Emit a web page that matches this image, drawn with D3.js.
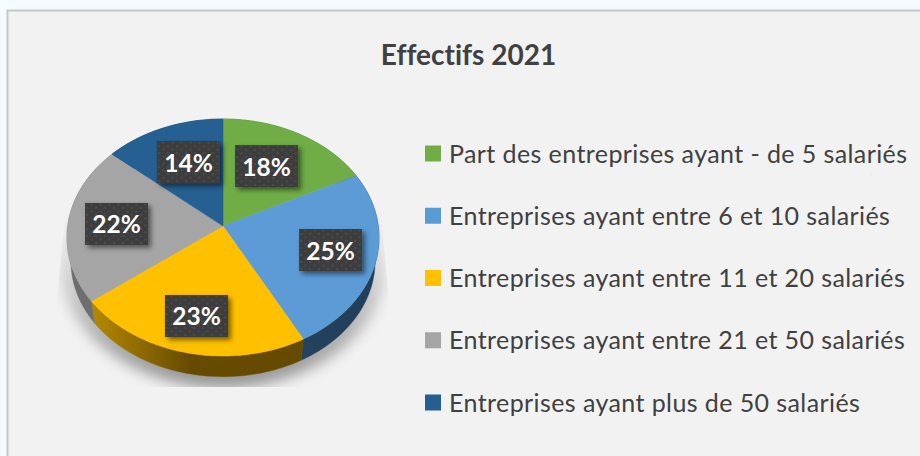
<!DOCTYPE html>
<html>
<head>
<meta charset="utf-8">
<script src="https://cdn.jsdelivr.net/npm/d3@7/dist/d3.min.js"></script>
<style>
html,body{margin:0;padding:0;background:#f5fbff;overflow:hidden}
svg{display:block}
text{font-family:Lato,"Open Sans",sans-serif;font-variant-ligatures:none}
</style>
</head>
<body>
<svg id="chart" width="920" height="456"></svg>
<script>
const chartTitle = "Effectifs 2021";
const categories = [
  "Part des entreprises ayant - de 5 salariés",
  "Entreprises ayant entre 6 et 10 salariés",
  "Entreprises ayant entre 11 et 20 salariés",
  "Entreprises ayant entre 21 et 50 salariés",
  "Entreprises ayant plus de 50 salariés"
];
const values = [18, 25, 23, 22, 14];
const colours = ["#70ad47", "#5b9bd5", "#ffc000", "#a5a5a5", "#255e91"];
const wallStops = [
  ["#43682a", "#43682a"],
  ["#24425e", "#213f5a"],
  ["#b58900", "#664a00"],
  ["#6e6e6e", "#8c8c8c"],
  ["#16385a", "#16385a"]
];

// layout
const cx = 223, cy = 226, A = 155.3, B = 117.4, k = 0.097;
const wallDrop = 24.25, wallScale = 0.975;
const labelRadius = [0.613, 0.708, 0.731, 0.687, 0.621];
const labelTurn = [-3, -1.2, 0.2, -0.3, 2.5].map(d => d * Math.PI / 180);
const boxW = 63, boxH = 42;

const svg = d3.select("#chart");
const defs = svg.append("defs");

const project = (a, r = 1, drop = 0) => {
  const w = 1 + k * r * Math.cos(a);
  return [cx + A * r * Math.sin(a) / w, cy + drop - B * r * Math.cos(a) / w];
};
const arcPts = (a0, a1, r, drop) => {
  const n = Math.max(2, Math.ceil((a1 - a0) / 0.02));
  return d3.range(n + 1).map(i => project(a0 + (a1 - a0) * i / n, r, drop));
};
const line = d3.line();

const slices = d3.pie().sort(null)(values);

// panel
svg.append("rect").attr("x", 7.5).attr("y", 10.5).attr("width", 960).attr("height", 500)
  .attr("fill", "#f2f2f2").attr("stroke", "#c2c8c8").attr("stroke-width", 2);

// filters and patterns
const blur = defs.append("filter").attr("id", "soft")
  .attr("x", "-20%").attr("y", "-20%").attr("width", "140%").attr("height", "140%");
blur.append("feGaussianBlur").attr("stdDeviation", 7);

const edge = defs.append("filter").attr("id", "edge")
  .attr("x", "-5%").attr("y", "-5%").attr("width", "110%").attr("height", "110%");
edge.append("feGaussianBlur").attr("stdDeviation", 0.5);

const boxShadow = defs.append("filter").attr("id", "boxShadow")
  .attr("x", "-30%").attr("y", "-30%").attr("width", "170%").attr("height", "170%");
boxShadow.append("feDropShadow").attr("dx", 3).attr("dy", 3).attr("stdDeviation", 2.5)
  .attr("flood-color", "#000").attr("flood-opacity", 0.5);

const dots = defs.append("pattern").attr("id", "dots").attr("patternUnits", "userSpaceOnUse")
  .attr("width", 9).attr("height", 7);
dots.append("rect").attr("width", 9).attr("height", 7).attr("fill", "#3e3e3e");
dots.append("circle").attr("cx", 2).attr("cy", 1.5).attr("r", 1).attr("fill", "#4e4e4e");
dots.append("circle").attr("cx", 6.5).attr("cy", 5).attr("r", 1).attr("fill", "#4e4e4e");

// ground shadow
const shadowGrad = defs.append("linearGradient").attr("id", "shadowFade")
  .attr("x1", 0).attr("y1", 0).attr("x2", 0).attr("y2", 1);
shadowGrad.append("stop").attr("offset", 0.2).attr("stop-color", "#000").attr("stop-opacity", 0);
shadowGrad.append("stop").attr("offset", 0.5).attr("stop-color", "#000").attr("stop-opacity", 0.11);
shadowGrad.append("stop").attr("offset", 1).attr("stop-color", "#000").attr("stop-opacity", 0.4);

defs.append("clipPath").attr("id", "shadowClip").append("path")
  .attr("d", line([[66, 205], [380, 205], [389, 300], [389, 387], [57, 387], [57, 300]]) + "Z");

svg.append("g").attr("clip-path", "url(#shadowClip)")
  .append("path")
  .attr("d", line(arcPts(0, 2 * Math.PI, 1.04, 26)) + "Z")
  .attr("fill", "url(#shadowFade)")
  .attr("filter", "url(#soft)");

// walls
slices.forEach((s, i) => {
  const xs = [project(s.startAngle)[0], project(s.endAngle)[0]];
  const grad = defs.append("linearGradient").attr("id", "wall" + i)
    .attr("gradientUnits", "userSpaceOnUse")
    .attr("x1", i === 2 ? xs[1] : d3.min(xs)).attr("y1", 0)
    .attr("x2", i === 2 ? xs[1] + 100 : d3.max(xs)).attr("y2", 0);
  grad.append("stop").attr("offset", 0).attr("stop-color", wallStops[i][0]);
  grad.append("stop").attr("offset", 1).attr("stop-color", wallStops[i][1]);

  const top = arcPts(s.startAngle, s.endAngle, 1, 0);
  const bottom = arcPts(s.startAngle, s.endAngle, wallScale, wallDrop).reverse();
  svg.append("path").attr("d", line(top.concat(bottom)) + "Z")
    .attr("fill", `url(#wall${i})`).attr("stroke", `url(#wall${i})`).attr("stroke-width", 0.4);
});

// top faces
svg.append("g").attr("filter", "url(#edge)")
  .selectAll("path").data(slices).join("path")
  .attr("d", s => line([project(0, 0)].concat(arcPts(s.startAngle, s.endAngle, 1, 0))) + "Z")
  .attr("fill", (s, i) => colours[i])
  .attr("stroke", (s, i) => colours[i])
  .attr("stroke-width", 0.5);

// data labels
const labels = svg.append("g").selectAll("g").data(slices).join("g")
  .attr("transform", (s, i) => {
    const [x, y] = project((s.startAngle + s.endAngle) / 2 + labelTurn[i], labelRadius[i]);
    return `translate(${x},${y})`;
  });
labels.append("rect")
  .attr("x", -boxW / 2).attr("y", -boxH / 2).attr("width", boxW).attr("height", boxH)
  .attr("fill", "url(#dots)").attr("filter", "url(#boxShadow)");
labels.append("text")
  .attr("text-anchor", "middle").attr("y", 9.5)
  .attr("fill", "#fff").attr("font-weight", 700).attr("font-size", 24.5)
  .text(s => s.value + "%");

// title
svg.append("text").attr("x", 468.5).attr("y", 65).attr("text-anchor", "middle")
  .attr("fill", "#404040").attr("font-weight", 700).attr("font-size", 28)
  .text(chartTitle);

// legend
const legendY = d3.scalePoint().domain(categories).range([153.5, 402.5]);
const legend = svg.append("g").selectAll("g").data(categories).join("g")
  .attr("transform", d => `translate(425,${legendY(d)})`);
legend.append("rect").attr("y", -8).attr("width", 16).attr("height", 16)
  .attr("fill", (d, i) => colours[i]);
legend.append("text").attr("x", 24).attr("y", 9)
  .attr("fill", "#404040").attr("font-size", 25).attr("letter-spacing", 0.41)
  .text(d => d);
</script>
</body>
</html>
